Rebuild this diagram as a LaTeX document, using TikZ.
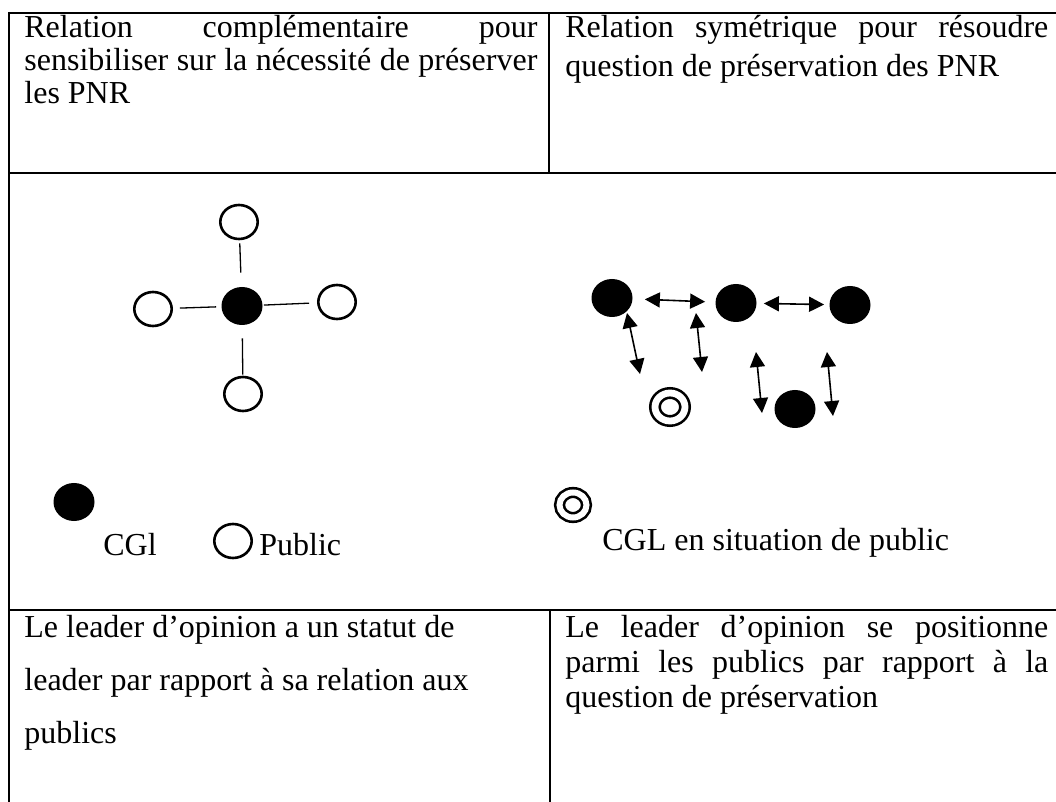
\documentclass[tikz,border=0pt]{standalone}
\usepackage{fontspec}
\setmainfont{Liberation Serif}
\usetikzlibrary{arrows.meta,shapes.geometric}

\begin{document}
\begin{tikzpicture}[
    x=0.5pt, y=-0.5pt,
    font=\fontsize{16pt}{19pt}\selectfont,
    grid/.style={line width=1pt},
    txt/.style={anchor=base west, inner sep=0pt},
    pub/.style={draw, ellipse, line width=1.3pt, minimum width=18.7pt, minimum height=17pt, inner sep=0pt},
    cgl/.style={fill=black, ellipse, minimum width=20.5pt, minimum height=19pt, inner sep=0pt},
    cglpub/.style={draw, ellipse, double, line width=1.3pt, double distance=3.4pt, minimum width=15pt, minimum height=14pt, inner sep=0pt},
    link/.style={line width=0.65pt},
    sym/.style={{Triangle[length=7.5pt,width=7.5pt]}-{Triangle[length=7.5pt,width=7.5pt]}, line width=0.8pt}
]
\fill[white] (0,0) rectangle (1056,802);
\useasboundingbox (0,0) rectangle (1056,802);

% table rules
\draw[grid] (9,13) -- (1056,13);
\draw[grid] (9,12) -- (9,802);
\draw[grid] (9,173) -- (1056,173);
\draw[grid] (549,13) -- (549,173);
\draw[grid] (9,610) -- (1056,610);
\draw[grid] (550,610) -- (550,802);

% first row
\node[txt] (r1a) at (24,38) {\makebox[256.5pt][s]{Relation complémentaire pour}};
\node[txt] (r1b) at (24,71) {\makebox[256.5pt][s]{sensibiliser sur la nécessité de préserver}};
\node[txt] (r1c) at (24,104) {les PNR};
\node[txt] (r2a) at (565,38) {\makebox[241.5pt][s]{Relation symétrique pour résoudre}};
\node[txt] (r2b) at (565,77) {question de préservation des PNR};

% star of the leader
\node[cgl] (hub) at (242,306) {};
\node[pub] (pn) at (239,222) {};
\node[pub] (pw) at (153,309) {};
\node[pub] (pe) at (337,302) {};
\node[pub] (ps) at (243,394) {};
\draw[link, shorten <=7pt, shorten >=1.5pt] (hub) -- (pn);
\draw[link, shorten <=2.5pt, shorten >=3.5pt] (hub) -- (pw);
\draw[link, shorten <=0.5pt, shorten >=4pt] (hub) -- (pe);
\draw[link, shorten <=6.5pt, shorten >=0.5pt] (hub) -- (ps);

% symmetric network
\node[cgl] (ga) at (612,298) {};
\node[cgl] (gb) at (736,303) {};
\node[cgl] (gc) at (850,305) {};
\node[cgl] (gd) at (795,409) {};
\node[cglpub] (ge) at (670,407) {};
\coordinate (a1) at (627,313); \coordinate (a2) at (640,374);
\coordinate (b1) at (696,313); \coordinate (b2) at (702,372);
\coordinate (d1) at (756,352); \coordinate (d2) at (762,413);
\coordinate (d3) at (827,352); \coordinate (d4) at (833,416);
\draw[sym, shorten <=6pt, shorten >=5pt] (ga) -- (gb);
\draw[sym, shorten <=3.5pt, shorten >=2.5pt] (gb) -- (gc);
\draw[sym] (a1) -- (a2);
\draw[sym] (b1) -- (b2);
\draw[sym] (d1) -- (d2);
\draw[sym] (d3) -- (d4);

% legend
\node[cgl] (kcgl) at (74,502) {};
\node[txt] (kcgltxt) at (103,555) {CGl};
\node[pub] (kpub) at (233,541) {};
\node[txt] (kpubtxt) at (259,555) {Public};
\node[cglpub, minimum width=13.5pt, minimum height=12.5pt, double distance=3pt] (kcglpub) at (573,505) {};
\node[txt] (kcglpubtxt) at (602,551) {CGL en situation de public};

% last row
\node[txt] (b1a) at (24,637) {Le leader d’opinion a un statut de};
\node[txt] (b1b) at (24,690) {leader par rapport à sa relation aux};
\node[txt] (b1c) at (24,743) {publics};
\node[txt] (b2a) at (565,637) {\makebox[241.5pt][s]{Le leader d’opinion se positionne}};
\node[txt] (b2b) at (565,672) {\makebox[241.5pt][s]{parmi les publics par rapport à la}};
\node[txt] (b2c) at (565,707) {question de préservation};
\end{tikzpicture}
\end{document}
